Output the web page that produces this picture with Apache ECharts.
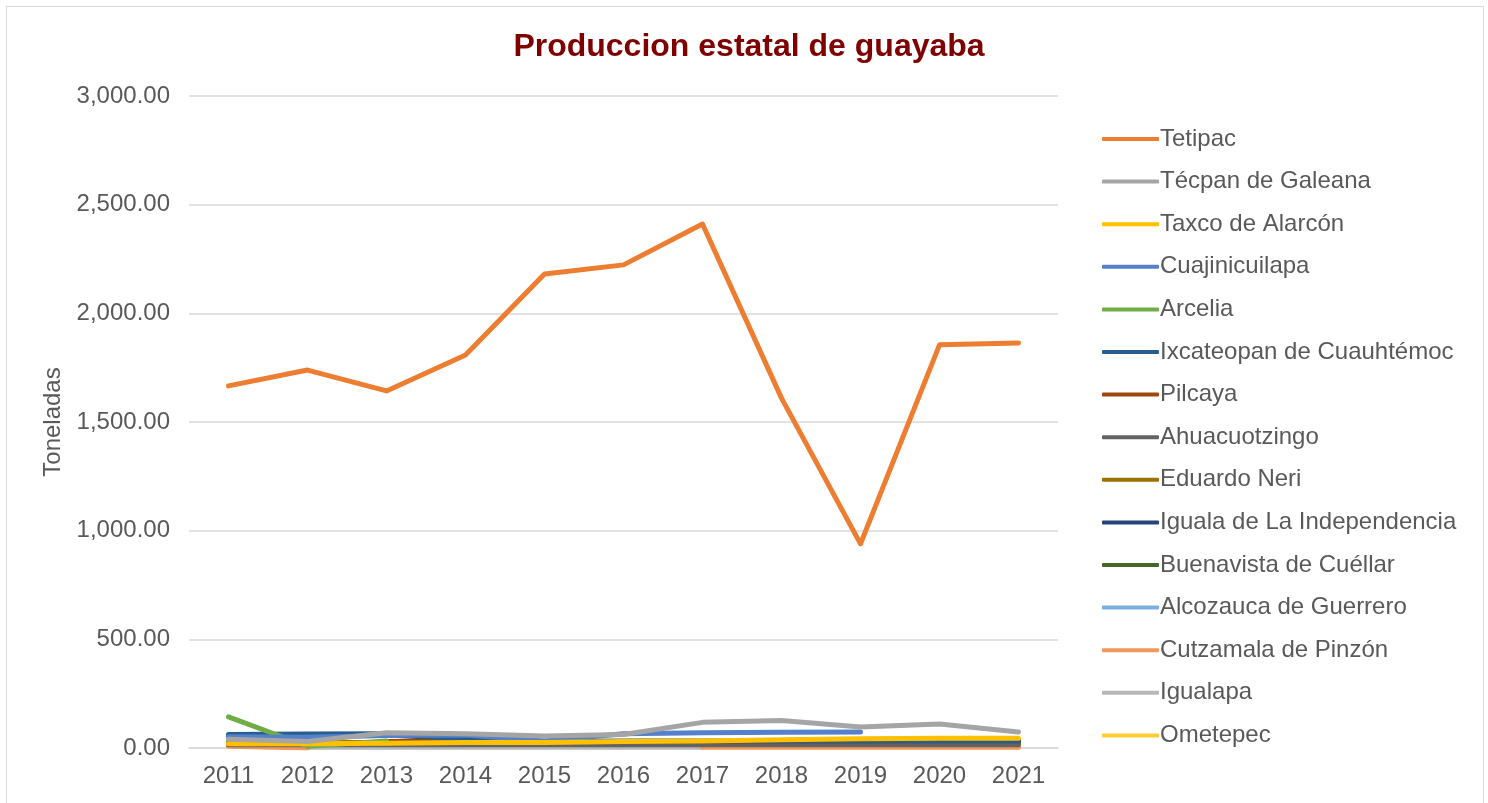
<!DOCTYPE html>
<html>
<head>
<meta charset="utf-8">
<script src="https://cdn.jsdelivr.net/npm/echarts@6/dist/echarts.min.js"></script>
<style>
  html, body { margin: 0; padding: 0; background: #fff; }
  #frame { position: absolute; left: 6px; top: 6px; width: 1478px; height: 810px; border: 1px solid #d9d9d9; box-sizing: border-box; }
  #chart { position: absolute; left: 0; top: 0; width: 1488px; height: 803px; }
</style>
</head>
<body>
<div id="frame"></div>
<div id="chart"></div>
<script>
const years = ['2011', '2012', '2013', '2014', '2015', '2016', '2017', '2018', '2019', '2020', '2021'];
const yTicks = [0, 500, 1000, 1500, 2000, 2500, 3000];

const tetipac       = [1666, 1739, 1643, 1808, 2181, 2223, 2411, 1610, 939, 1855, 1864];
const tecpan        = [40, 30, 70, 66, 55, 62, 118, 127, 97, 110, 74];
const taxco         = [20, 20, 22, 25, 25, 30, 32, 38, 42, 45, 45];
const cuajinicuilapa = [52, 50, 58, 60, 32, 66, 70, 72, 74, null, null];
const arcelia       = [143, 8, 32, null, null, null, null, null, null, null, null];
const ixcateopan    = [62, 64, 66, 40, 30, 32, 32, 32, 32, 32, 32];
const pilcaya       = [null, null, 30, 32, null, 30, 30, 30, 30, 32, 32];
const ahuacuotzingo = [15, 15, 15, 15, 15, 15, 15, 15, 15, 15, 15];
const eduardoNeri   = [25, 25, 25, 25, 25, 28, 28, 28, 28, 28, 28];
const iguala        = [58, 58, 60, 42, 28, 28, 26, 26, 26, 26, 26];
const buenavista    = [20, 20, 20, 20, 20, 20, 22, 22, 22, 22, 22];
const alcozauca     = [30, 25, 25, 25, 25, 25, 25, 25, 25, 25, 25];
const cutzamala     = [8, 0, null, null, null, null, 4, 4, 4, 4, 4];
const igualapa      = [26, 4, 4, 4, 4, 4, 4, null, null, null, null];
const ometepec      = [10, 10, 10, 10, 10, 10, 10, 10, 10, 10, 10];

const seriesDefs = [
  ['Tetipac', tetipac, '#ed7d31'],
  ['Técpan de Galeana', tecpan, '#a5a5a5'],
  ['Taxco de Alarcón', taxco, '#ffc000'],
  ['Cuajinicuilapa', cuajinicuilapa, '#5580ca'],
  ['Arcelia', arcelia, '#70ad47'],
  ['Ixcateopan de Cuauhtémoc', ixcateopan, '#255e91'],
  ['Pilcaya', pilcaya, '#9e480e'],
  ['Ahuacuotzingo', ahuacuotzingo, '#636363'],
  ['Eduardo Neri', eduardoNeri, '#997300'],
  ['Iguala de La Independencia', iguala, '#264478'],
  ['Buenavista de Cuéllar', buenavista, '#43682b'],
  ['Alcozauca de Guerrero', alcozauca, '#7cafdd'],
  ['Cutzamala de Pinzón', cutzamala, '#f1975a'],
  ['Igualapa', igualapa, '#b7b7b7'],
  ['Ometepec', ometepec, '#ffcd33'],
];

const chart = echarts.init(document.getElementById('chart'));
const fmt = (v) => v.toLocaleString('en-US', { minimumFractionDigits: 2, maximumFractionDigits: 2 });

chart.setOption({
  animation: false,
  textStyle: { fontFamily: 'Liberation Sans, Arial, sans-serif' },
  title: {
    text: 'Produccion estatal de guayaba',
    left: 744, top: 26, textAlign: 'center',
    textStyle: { color: '#7f0000', fontSize: 32, fontWeight: 'bold', fontFamily: 'Liberation Sans, Arial, sans-serif' },
  },
  legend: {
    orient: 'vertical',
    left: 1097, top: 122,
    itemWidth: 57, itemHeight: 4, itemGap: 18.6,
    icon: 'roundRect',
    textStyle: { color: '#595959', fontSize: 24, padding: [0, 0, 0, -4] },
    data: seriesDefs.map((d) => d[0]),
  },
  grid: { left: 189, right: 430, top: 96, bottom: 55 },
  xAxis: {
    type: 'category',
    data: years,
    boundaryGap: true,
    axisLine: { lineStyle: { color: '#d9d9d9', width: 1.5 } },
    axisTick: { show: false },
    axisLabel: { color: '#595959', fontSize: 24, margin: 16 },
  },
  yAxis: {
    type: 'value',
    min: yTicks[0], max: yTicks[yTicks.length - 1], interval: 500,
    name: 'Toneladas',
    nameLocation: 'middle', nameGap: 122, nameRotate: 90,
    nameTextStyle: { color: '#595959', fontSize: 24 },
    axisLine: { show: false },
    axisTick: { show: false },
    axisLabel: { color: '#595959', fontSize: 24, margin: 19, formatter: fmt },
    splitLine: { lineStyle: { color: '#d9d9d9', width: 1.5 } },
  },
  series: seriesDefs.map(([name, data, color], i) => ({
    name, type: 'line', data,
    color,
    symbol: 'none',
    connectNulls: false,
    z: 2 + (i === 0 ? 20 : 15 - i),
    lineStyle: { width: 5, color, cap: 'round', join: 'round' },
  })),
});
</script>
</body>
</html>
